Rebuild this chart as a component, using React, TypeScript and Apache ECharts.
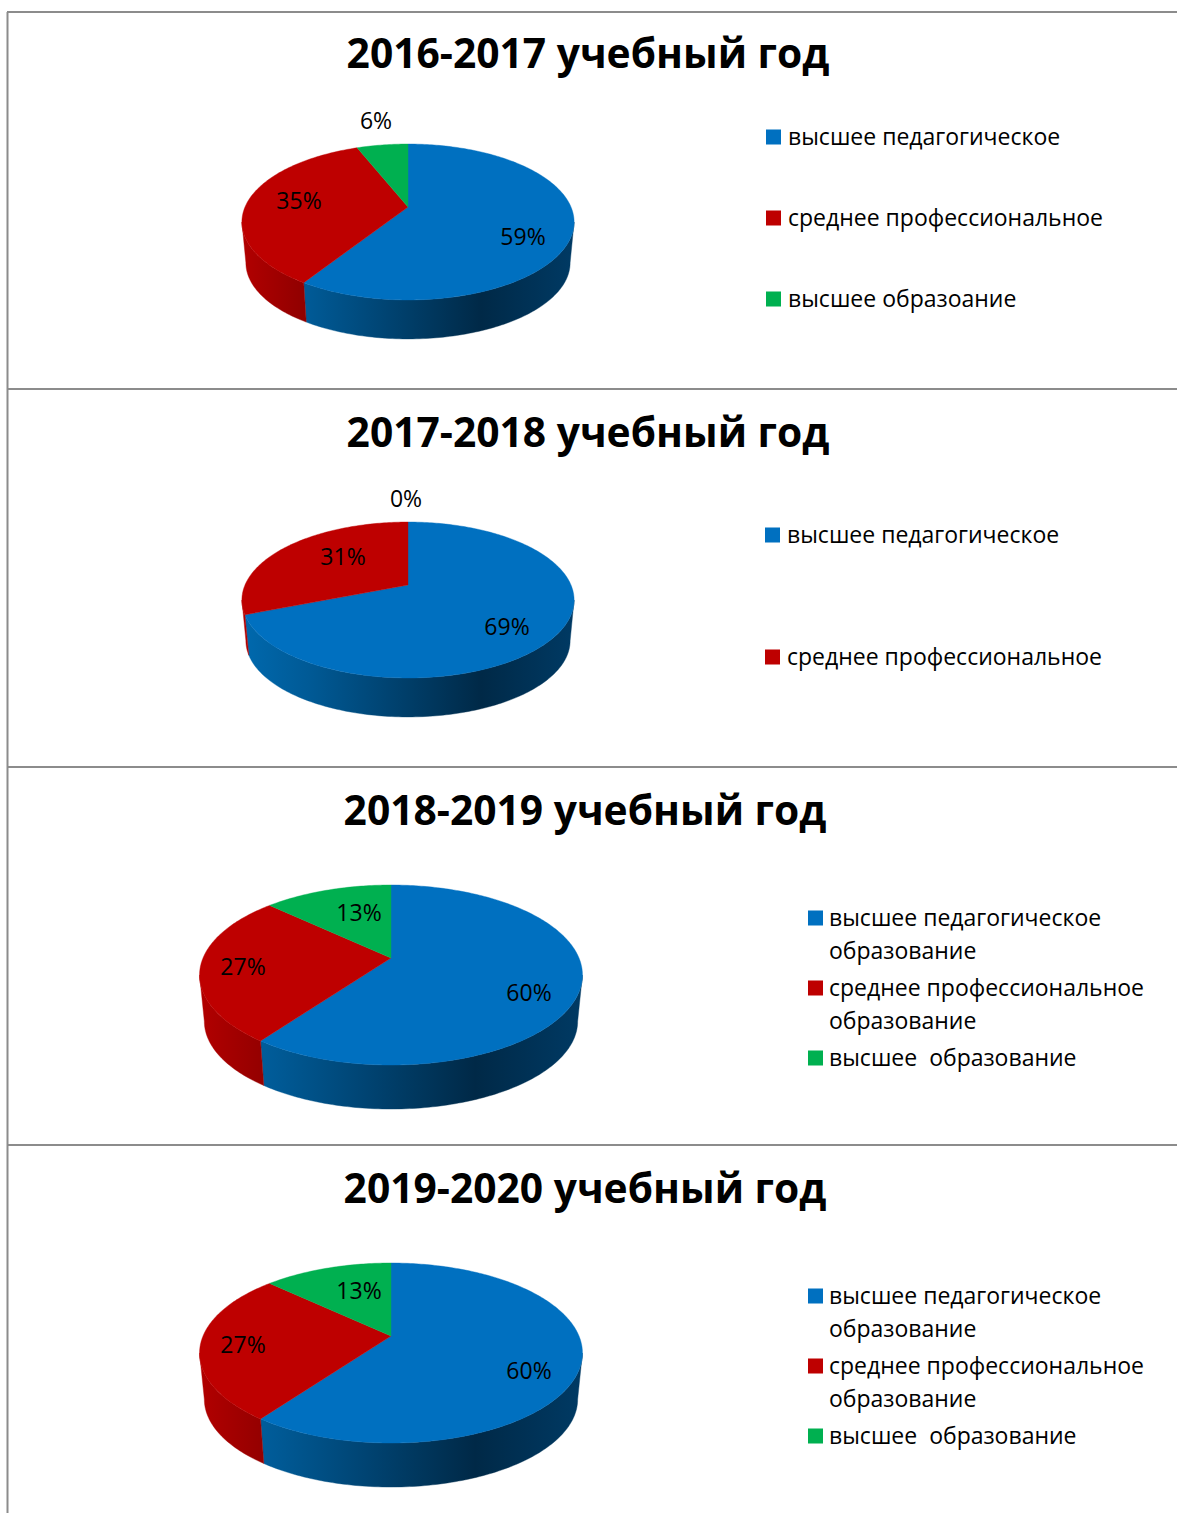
import React, { useEffect, useRef } from "react";
import * as echarts from "echarts";

const FONT = '"Open Sans", "Noto Sans", sans-serif';

const yearTitles = [
  "2016-2017 учебный год",
  "2017-2018 учебный год",
  "2018-2019 учебный год",
  "2019-2020 учебный год",
];
const shortCategories = ["высшее педагогическое", "среднее профессиональное", "высшее образоание"];
const longCategories = [
  "высшее педагогическое образование",
  "среднее профессиональное образование",
  "высшее  образование",
];
const values2016 = [59, 35, 6];
const values2017 = [69, 31, 0];
const values2018 = [60, 27, 13];
const values2019 = [60, 27, 13];
const topColors = ["#0070C0", "#BE0000", "#00B050"];

const blueWall = [
  { offset: 0, color: "#0069ae" },
  { offset: 0.2, color: "#005a96" },
  { offset: 0.72, color: "#002947" },
  { offset: 1, color: "#003a64" },
];
const redWall = [
  { offset: 0, color: "#b20000" },
  { offset: 0.2, color: "#8e0000" },
  { offset: 1, color: "#800000" },
];
const greenWall = [
  { offset: 0, color: "#007a3d" },
  { offset: 1, color: "#005c2e" },
];
const wallStops = [blueWall, redWall, greenWall];

// Perspective of each disc and placement of texts
const small = { A: 163, B: 75.1, p: 0.1923, s: 0.976, drop: 41.2 };
const large = { A: 188, B: 86.8, p: 0.189, s: 0.975, drop: 46.7 };
const panels = [
  {
    values: values2016, cats: shortCategories, shown: 3, geo: small, cx: 408, cy: 207, titleX: 588, titleY: 52,
    labels: [[523, 236], [299, 200], [376, 120]],
    legend: { x: 766, y: 136, wrap: false, gap: 81 },
  },
  {
    values: values2017, cats: shortCategories, shown: 2, geo: small, cx: 408, cy: 585, titleX: 588, titleY: 431,
    labels: [[507, 626], [343, 556], [406, 498]],
    legend: { x: 765, y: 534, wrap: false, gap: 122 },
  },
  {
    values: values2018, cats: longCategories, shown: 3, geo: large, cx: 391, cy: 958, titleX: 585, titleY: 809,
    labels: [[529, 992], [243, 966], [359, 912]],
    legend: { x: 808, y: 917, wrap: true, gap: 0 },
  },
  {
    values: values2019, cats: longCategories, shown: 3, geo: large, cx: 391, cy: 1336, titleX: 585, titleY: 1187,
    labels: [[529, 1370], [243, 1344], [359, 1290]],
    legend: { x: 808, y: 1295, wrap: true, gap: 0 },
  },
];
const LEGEND_FONT = 23;
const LINE_H = 33;

function project(panel: any, deg: number, lower: boolean): number[] {
  const { geo, cx, cy } = panel;
  const t = (deg * Math.PI) / 180;
  const u = Math.sin(t);
  const v = Math.cos(t);
  const w = 1 + geo.p * v;
  const x = (geo.A * u) / w;
  const y = (-geo.B * v) / w;
  return lower ? [cx + geo.s * x, cy + geo.drop + geo.s * y] : [cx + x, cy + y];
}

function arc(panel: any, a: number, b: number, lower: boolean): number[][] {
  const pts: number[][] = [];
  const n = Math.max(1, Math.ceil(Math.abs(b - a)));
  for (let i = 0; i <= n; i++) pts.push(project(panel, a + ((b - a) * i) / n, lower));
  return pts;
}

function buildOption() {
  const series: any[] = [];
  const legends: any[] = [];
  panels.forEach((panel) => {
    const total = panel.values.reduce((s, v) => s + v, 0);
    // the wall is seen only between the two silhouette angles of the disc
    const silhouette = 90 + (Math.asin(panel.geo.p) * 180) / Math.PI;
    let cum = 0;
    panel.values.forEach((value, j) => {
      const start = (cum / total) * 360;
      cum += value;
      const end = (cum / total) * 360;
      series.push({
        type: "custom",
        name: panel.cats[j],
        coordinateSystem: "none",
        silent: true,
        itemStyle: { color: topColors[j] },
        data: [value],
        renderItem: (_p: any, api: any) => {
          const children: any[] = [];
          const wallA = Math.max(start, silhouette);
          const wallB = Math.min(end, 360 - silhouette);
          if (wallB > wallA) {
            const pts = arc(panel, wallA, wallB, false).concat(arc(panel, wallB, wallA, true));
            const left = panel.cx - panel.geo.A * 1.02;
            const right = panel.cx + panel.geo.A * 1.02;
            const fill = {
              type: "linear", x: left, y: 0, x2: right, y2: 0, global: true,
              colorStops: wallStops[j],
            };
            children.push({
              type: "polygon",
              shape: { points: pts },
              style: { fill, stroke: fill, lineWidth: 0.4 },
            });
          }
          if (end > start) {
            const pts = [[panel.cx, panel.cy]].concat(arc(panel, start, end, false));
            children.push({
              type: "polygon",
              shape: { points: pts },
              style: { fill: topColors[j], stroke: topColors[j], lineWidth: 0.4 },
            });
          }
          children.push({
            type: "text",
            style: {
              text: `${api.value(0)}%`,
              x: panel.labels[j][0],
              y: panel.labels[j][1],
              align: "center",
              verticalAlign: "middle",
              fontFamily: FONT,
              fontSize: LEGEND_FONT,
              fill: "#000000",
            },
          });
          return { type: "group", children };
        },
      });
    });

    const lg = panel.legend;
    const names = panel.cats.slice(0, panel.shown);
    legends.push({
      orient: "vertical",
      left: lg.x,
      top: lg.y - LINE_H / 2,
      padding: 0,
      selectedMode: false,
      data: names,
      itemWidth: lg.wrap ? 16 : 17,
      itemHeight: lg.wrap ? LINE_H * 2 : 17,
      itemGap: lg.wrap ? 4 : lg.gap - LINE_H,
      icon: lg.wrap ? "path://M0 10H15V25H0Z M16 0L16 66" : "path://M0 2H15V17H0Z M17 0L17 17",
      formatter: (name: string) => {
        if (!lg.wrap) return name;
        if (name.endsWith(" образование") && !name.includes("  ")) {
          return name.replace(" образование", "\nобразование");
        }
        return name + "\n ";
      },
      textStyle: {
        fontFamily: FONT,
        fontSize: LEGEND_FONT,
        lineHeight: LINE_H,
        color: "#000000",
      },
    });
  });

  const graphic: any[] = [];
  [12, 389, 767, 1145].forEach((y) => {
    graphic.push({
      type: "line",
      shape: { x1: 7, y1: y, x2: 1177, y2: y },
      style: { stroke: "#8c8c8c", lineWidth: 2 },
    });
  });
  graphic.push({
    type: "line",
    shape: { x1: 7.5, y1: 12, x2: 7.5, y2: 1513 },
    style: { stroke: "#8c8c8c", lineWidth: 2 },
  });
  panels.forEach((panel, i) => {
    graphic.push({
      type: "text",
      style: {
        text: yearTitles[i],
        x: panel.titleX,
        y: panel.titleY,
        align: "center",
        verticalAlign: "middle",
        fontFamily: FONT,
        fontWeight: "bold",
        fontSize: 40.75,
        fill: "#000000",
      },
    });
  });

  return {
    animation: false,
    backgroundColor: "#ffffff",
    legend: legends,
    series,
    graphic,
  };
}

export default function App() {
  const ref = useRef<HTMLDivElement>(null);
  useEffect(() => {
    const chart = echarts.init(ref.current!, undefined, { renderer: "svg" });
    chart.setOption(buildOption());
    return () => chart.dispose();
  }, []);
  return (
    <div
      ref={ref}
      style={{ position: "absolute", left: 0, top: 0, width: 1177, height: 1513, overflow: "hidden" }}
    />
  );
}
